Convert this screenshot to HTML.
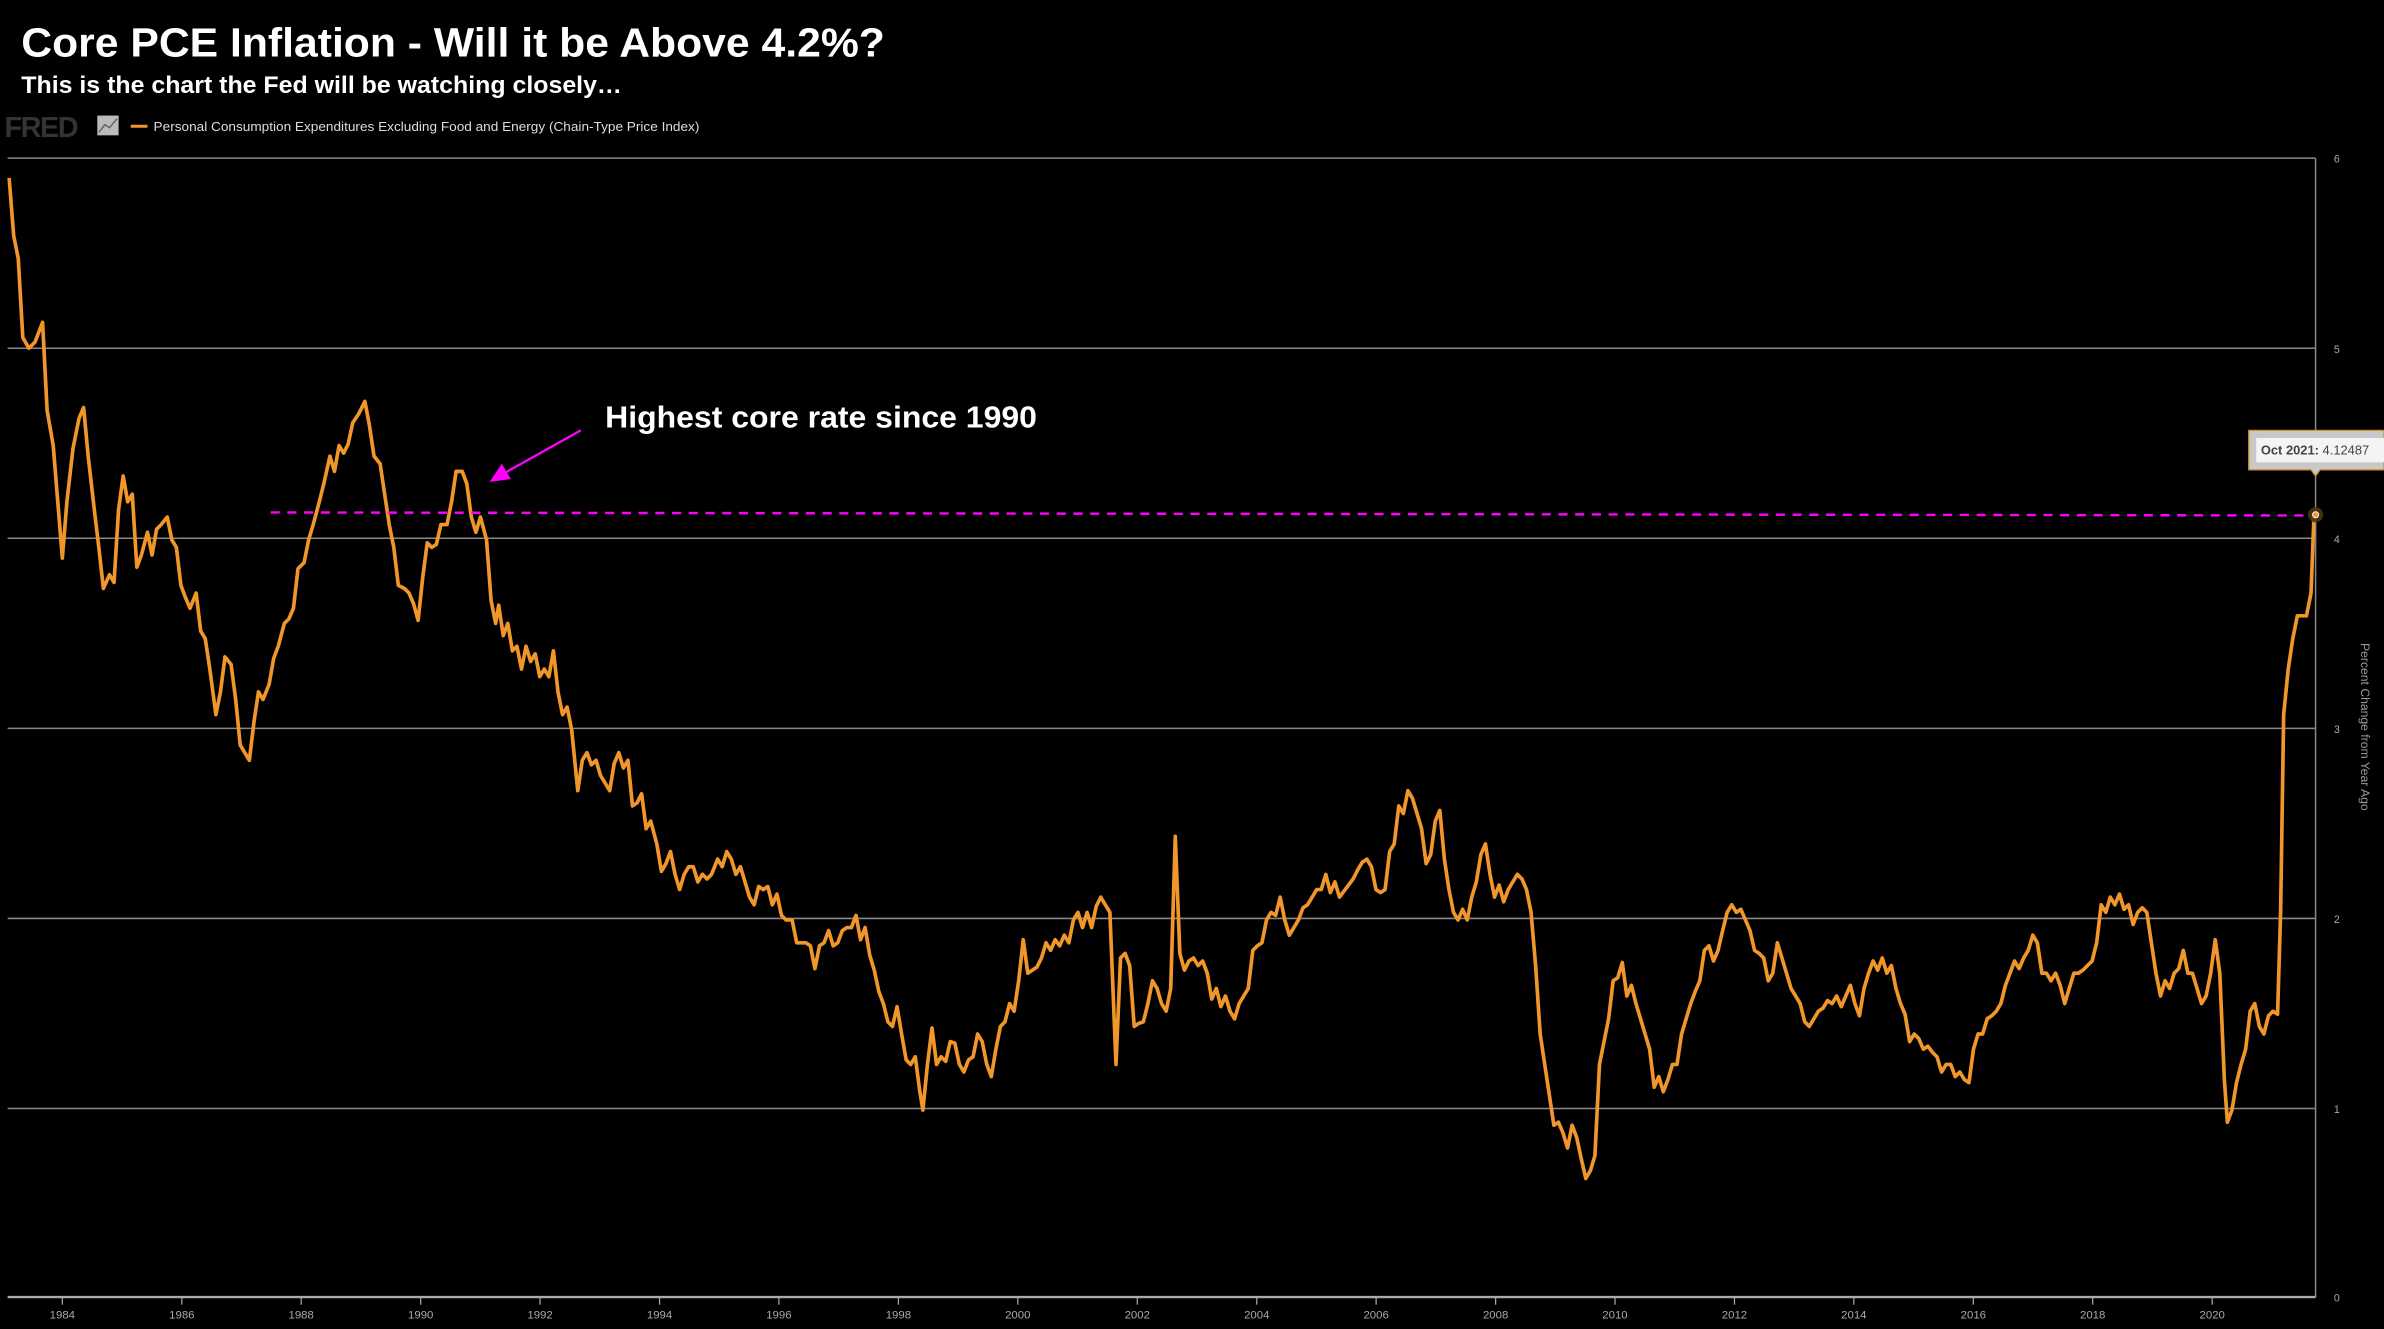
<!DOCTYPE html>
<html><head><meta charset="utf-8"><style>html,body{margin:0;padding:0;background:#000;overflow:hidden}svg{display:block}</style></head><body>
<svg width="2384" height="1329" viewBox="0 0 1568 874" preserveAspectRatio="none" xmlns="http://www.w3.org/2000/svg" font-family="Liberation Sans, sans-serif">
<rect width="1568" height="874" fill="#000"/>
<text x="14" y="37" fill="#fff" font-size="27" font-weight="bold" textLength="568" lengthAdjust="spacingAndGlyphs">Core PCE Inflation - Will it be Above 4.2%?</text>
<text x="14" y="61" fill="#fff" font-size="16" font-weight="bold" textLength="395" lengthAdjust="spacingAndGlyphs">This is the chart the Fed will be watching closely…</text>
<text x="3" y="90" fill="#333" font-size="19" font-weight="bold" letter-spacing="-1">FRED</text>
<rect x="64" y="76" width="14" height="13" fill="#bbb"/>
<polyline points="65,87 69,82 72,84 77,78" fill="none" stroke="#666" stroke-width="1"/>
<line x1="86" y1="83" x2="97" y2="83" stroke="#f0962a" stroke-width="2"/>
<text x="101" y="86" fill="#ddd" font-size="8.6" textLength="359" lengthAdjust="spacingAndGlyphs">Personal Consumption Expenditures Excluding Food and Energy (Chain-Type Price Index)</text>
<g stroke="#888" stroke-width="1">
<line x1="5" y1="104" x2="1523" y2="104"/><line x1="5" y1="229" x2="1523" y2="229"/><line x1="5" y1="354" x2="1523" y2="354"/><line x1="5" y1="479" x2="1523" y2="479"/><line x1="5" y1="604" x2="1523" y2="604"/><line x1="5" y1="729" x2="1523" y2="729"/>
<line x1="1523" y1="104" x2="1523" y2="853"/>
</g>
<line x1="5" y1="853" x2="1523" y2="853" stroke="#aaa" stroke-width="1.5"/>
<g fill="#aaa" font-size="7" text-anchor="middle">
<text x="1537" y="107">6</text><text x="1537" y="232">5</text><text x="1537" y="357">4</text><text x="1537" y="482">3</text><text x="1537" y="607">2</text><text x="1537" y="732">1</text><text x="1537" y="856">0</text>
</g>
<g stroke="#aaa" stroke-width="0.8">
<line x1="41" y1="853" x2="41" y2="858"/><line x1="119.6" y1="853" x2="119.6" y2="858"/><line x1="198.1" y1="853" x2="198.1" y2="858"/><line x1="276.7" y1="853" x2="276.7" y2="858"/><line x1="355.2" y1="853" x2="355.2" y2="858"/><line x1="433.8" y1="853" x2="433.8" y2="858"/><line x1="512.3" y1="853" x2="512.3" y2="858"/><line x1="590.9" y1="853" x2="590.9" y2="858"/><line x1="669.4" y1="853" x2="669.4" y2="858"/><line x1="748" y1="853" x2="748" y2="858"/><line x1="826.6" y1="853" x2="826.6" y2="858"/><line x1="905.1" y1="853" x2="905.1" y2="858"/><line x1="983.7" y1="853" x2="983.7" y2="858"/><line x1="1062.2" y1="853" x2="1062.2" y2="858"/><line x1="1140.8" y1="853" x2="1140.8" y2="858"/><line x1="1219.3" y1="853" x2="1219.3" y2="858"/><line x1="1297.9" y1="853" x2="1297.9" y2="858"/><line x1="1376.4" y1="853" x2="1376.4" y2="858"/><line x1="1455" y1="853" x2="1455" y2="858"/>
</g>
<g fill="#aaa" font-size="7.5" text-anchor="middle">
<text x="41" y="867">1984</text><text x="119.6" y="867">1986</text><text x="198.1" y="867">1988</text><text x="276.7" y="867">1990</text><text x="355.2" y="867">1992</text><text x="433.8" y="867">1994</text><text x="512.3" y="867">1996</text><text x="590.9" y="867">1998</text><text x="669.4" y="867">2000</text><text x="748" y="867">2002</text><text x="826.6" y="867">2004</text><text x="905.1" y="867">2006</text><text x="983.7" y="867">2008</text><text x="1062.2" y="867">2010</text><text x="1140.8" y="867">2012</text><text x="1219.3" y="867">2014</text><text x="1297.9" y="867">2016</text><text x="1376.4" y="867">2018</text><text x="1455" y="867">2020</text>
</g>
<text transform="translate(1553,478) rotate(90)" fill="#999" font-size="8" text-anchor="middle">Percent Change from Year Ago</text>
<polyline fill="none" stroke="#f0962a" stroke-width="2.4" stroke-linejoin="round" points="6,117 9,155 12,170 15,222 19,229 23,225 28,212 31,270 35,293 38,330 41,367 44,330 48,295 52,275 55,268 58,300 62,335 65,360 68,387 72,378 75,383 78,335 81,313 84,330 87,325 90,373 93,365 97,350 100,365 103,348 106,345 110,340 113,355 116,360 119,385 122,393 125,400 129,390 132,415 135,420 138,440 142,470 145,455 148,432 152,437 155,460 158,490 161,495 164,500 167,475 170,455 173,460 177,450 180,433 183,425 187,410 190,407 193,400 196,374 200,370 203,355 206,345 210,330 213,318 217,300 220,310 223,293 226,298 229,292 232,278 236,272 240,264 243,280 246,300 250,305 253,325 256,345 259,360 262,385 266,387 269,390 272,397 275,408 278,380 281,357 284,360 287,358 290,345 294,345 297,330 300,310 304,310 307,318 310,340 313,350 316,340 320,355 323,395 326,410 328,398 331,418 334,410 337,428 340,425 343,440 346,425 349,435 352,430 355,445 358,440 361,445 364,428 367,455 370,470 373,465 376,480 380,520 383,500 386,495 389,503 392,500 395,510 398,515 401,520 404,502 407,495 410,505 413,500 416,530 419,528 422,522 425,545 428,540 432,555 435,573 438,568 441,560 444,575 447,585 450,575 453,570 456,570 459,580 462,575 465,578 468,575 472,565 475,570 478,560 481,565 484,575 487,570 490,580 493,590 496,595 499,583 502,585 505,583 508,595 511,588 514,602 517,605 521,605 524,620 527,620 530,620 533,622 536,637 539,622 542,620 545,612 548,622 551,620 554,612 557,610 560,610 563,602 566,618 569,610 572,628 575,638 578,652 581,660 584,672 587,675 590,662 593,680 596,697 599,700 602,695 605,718 607,730 610,700 613,676 616,700 619,695 622,698 625,685 628,686 631,700 634,705 637,697 640,695 643,680 646,685 649,700 652,708 655,690 658,675 661,672 664,660 667,665 670,645 673,618 676,640 679,638 682,636 685,630 688,620 691,625 694,618 697,622 700,615 703,620 706,605 709,600 712,610 715,600 718,610 721,596 724,590 727,595 730,600 732,650 734,700 737,630 740,627 743,635 746,675 749,673 752,672 755,660 758,645 761,650 764,660 767,665 770,650 773,550 776,627 779,638 782,632 785,630 788,635 791,632 794,640 797,657 800,650 803,662 806,655 809,665 812,670 815,660 818,655 821,650 824,625 827,622 830,620 833,605 836,600 839,602 842,590 845,605 848,615 851,610 854,605 857,597 860,595 863,590 866,585 869,585 872,575 875,587 878,580 881,590 884,586 887,582 890,578 893,572 896,567 899,565 902,570 905,585 908,587 911,585 914,560 917,555 920,530 923,535 926,520 929,525 932,535 935,545 938,568 941,562 944,540 947,533 950,565 953,585 956,600 959,605 962,598 965,605 968,590 971,580 974,562 977,555 980,575 983,590 986,582 989,593 992,585 995,580 998,575 1001,578 1004,585 1007,600 1010,635 1013,680 1016,700 1019,720 1022,740 1025,738 1028,745 1031,755 1034,740 1037,748 1040,762 1043,775 1046,770 1049,760 1052,700 1055,685 1058,670 1061,645 1064,643 1067,633 1070,655 1073,648 1076,660 1079,670 1082,680 1085,690 1088,715 1091,708 1094,718 1097,710 1100,700 1103,700 1106,680 1109,670 1112,660 1115,652 1118,645 1121,625 1124,622 1127,632 1130,625 1133,612 1136,600 1139,595 1142,600 1145,598 1148,605 1151,612 1154,625 1157,627 1160,630 1163,645 1166,640 1169,620 1172,630 1175,640 1178,650 1181,655 1184,660 1187,672 1190,675 1193,670 1196,665 1199,663 1202,658 1205,660 1208,655 1211,662 1214,655 1217,648 1220,660 1223,668 1226,650 1229,640 1232,632 1235,638 1238,630 1241,640 1244,635 1247,650 1250,660 1253,667 1256,685 1259,680 1262,683 1265,690 1268,688 1271,692 1274,695 1277,705 1280,700 1283,700 1286,708 1289,705 1292,710 1295,712 1298,690 1301,680 1304,680 1307,670 1310,668 1313,665 1316,660 1319,648 1322,640 1325,632 1328,637 1331,630 1334,625 1337,615 1340,620 1343,640 1346,640 1349,645 1352,640 1355,648 1358,660 1361,650 1364,640 1367,640 1370,638 1373,635 1376,632 1379,620 1382,595 1385,600 1388,590 1391,595 1394,588 1397,598 1400,595 1403,608 1406,600 1409,597 1412,600 1415,620 1418,640 1421,655 1424,645 1427,650 1430,640 1433,637 1436,625 1439,640 1442,640 1445,650 1448,660 1451,655 1454,640 1457,618 1460,640 1463,710 1465,738 1468,730 1471,712 1474,700 1477,690 1480,665 1483,660 1486,675 1489,680 1492,668 1495,665 1498,667 1500,600 1502,470 1505,440 1508,420 1511,405 1514,405 1517,405 1520,390 1522,338"/>
<line x1="178" y1="337" x2="1522" y2="339" stroke="#f0f" stroke-width="1.6" stroke-dasharray="6,5"/>
<circle cx="1523" cy="338.5" r="5" fill="#4a3510" opacity="0.9"/>
<circle cx="1523" cy="338.5" r="2" fill="#f0962a" stroke="#fff" stroke-width="0.6"/>
<line x1="382" y1="283" x2="332" y2="311" stroke="#f0f" stroke-width="1.5"/>
<polygon points="322,317 330,305 336,315" fill="#f0f"/>
<text x="398" y="281" fill="#fff" font-size="20" font-weight="bold" textLength="284" lengthAdjust="spacingAndGlyphs">Highest core rate since 1990</text>
<path d="M1479,283 H1568 V309 H1526 L1523,313 L1520,309 H1479 Z" fill="#c8c8c8" stroke="#d08a20" stroke-width="0.8"/>
<rect x="1484" y="288" width="84" height="16" fill="#f4f4f4"/>
<text x="1487" y="299" font-size="8.5" fill="#444"><tspan font-weight="bold">Oct 2021:</tspan> 4.12487</text>
</svg>
</body></html>
